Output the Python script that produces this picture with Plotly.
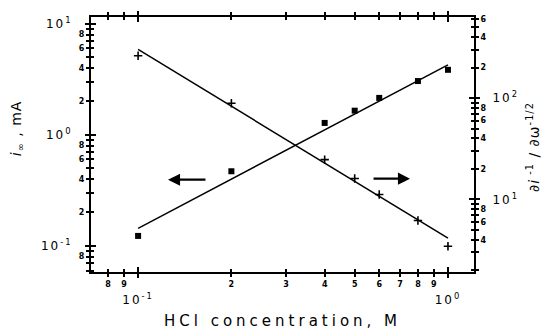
import plotly.graph_objects as go

# HCl concentration (M) and measured quantities
conc = [0.1, 0.2, 0.4, 0.5, 0.6, 0.8, 1.0]
i_inf = [0.123, 0.47, 1.28, 1.65, 2.15, 3.05, 3.85]          # mA, left axis
slope = [262, 89, 24.7, 16.1, 11.2, 6.2, 3.45]               # right axis

# least-squares lines (end points)
fit_conc = [0.1, 1.0]
fit_i = [0.144, 4.27]
fit_slope = [302, 4.15]

# tick values / labels
x_minor = [0.08, 0.09, 0.2, 0.3, 0.4, 0.5, 0.6, 0.7, 0.8, 0.9]
x_minor_txt = ["8", "9", "2", "3", "4", "5", "6", "7", "8", "9"]
x_major = [0.1, 1.0]
x_major_txt = ["10<sup>-1</sup>", "10<sup>0</sup>"]

yl_minor = [0.06, 0.07, 0.08, 0.09, 0.2, 0.3, 0.4, 0.5, 0.6, 0.7, 0.8, 0.9,
            2, 3, 4, 5, 6, 7, 8, 9]
yl_minor_txt = ["", "", "8", "", "2", "", "4", "", "6", "", "8", "",
                "2", "", "4", "", "6", "", "8", ""]
yl_major = [0.1, 1, 10]
yl_major_txt = ["10<sup>-1</sup>", "10<sup>0</sup>", "10<sup>1</sup>"]

yr_minor = [2, 3, 4, 5, 6, 7, 8, 9, 20, 30, 40, 50, 60, 70, 80, 90,
            200, 300, 400, 500, 600]
yr_minor_txt = ["", "", "4", "", "6", "", "8", "", "2", "", "4", "", "6", "", "8", "",
                "2", "", "4", "", "6"]
yr_major = [10, 100]
yr_major_txt = ["10<sup>1</sup>", "10<sup>2</sup>"]

BLACK = "black"


def spaced(s, px=2):
    return f'<span style="letter-spacing:{px}px">{s}</span>'


bold = lambda s: f"<b>{s}</b>" if s else ""

minor_font = dict(family="DejaVu Sans", size=8, color=BLACK)
major_font = dict(family="DejaVu Sans", size=12, color=BLACK)

fig = go.Figure()
fig.add_trace(go.Scatter(x=fit_conc, y=fit_i, mode="lines",
                         line=dict(color=BLACK, width=1.5), xaxis="x", yaxis="y"))
fig.add_trace(go.Scatter(x=conc, y=i_inf, mode="markers",
                         marker=dict(symbol="square", size=6, color=BLACK),
                         xaxis="x", yaxis="y"))
fig.add_trace(go.Scatter(x=fit_conc, y=fit_slope, mode="lines",
                         line=dict(color=BLACK, width=1.5), xaxis="x", yaxis="y2"))
fig.add_trace(go.Scatter(x=conc, y=slope, mode="markers",
                         marker=dict(symbol="cross-thin", size=6,
                                     line=dict(color=BLACK, width=1.6)),
                         xaxis="x", yaxis="y2"))
# empty traces so the overlaid decade-label axes get their own subplots
for xa, ya in [("x2", "y"), ("x", "y3"), ("x", "y4")]:
    fig.add_trace(go.Scatter(x=[], y=[], mode="markers", xaxis=xa, yaxis=ya,
                             hoverinfo="skip"))

xr = [-1.152, 0.084]
ylr = [-1.235, 1.061]
yrr = [0.284, 2.80]

common = dict(type="log", showgrid=False, zeroline=False, tickcolor=BLACK,
              tickwidth=1.5, autorange=False)

fig.update_layout(
    width=551, height=329,
    margin=dict(l=91, r=77, t=15, b=57),
    paper_bgcolor="white", plot_bgcolor="white",
    showlegend=False,
    xaxis=dict(**common, range=xr, tickmode="array", tickvals=x_minor,
               ticktext=[bold(t) for t in x_minor_txt], ticks="outside", ticklen=3,
               showline=True, linecolor=BLACK, linewidth=2, mirror="ticks",
               tickfont=minor_font,
               minor=dict(tickvals=x_major, ticks="inside", ticklen=5,
                          tickwidth=1.5, tickcolor=BLACK, showgrid=False)),
    xaxis2=dict(**common, range=xr, overlaying="x", anchor="y", side="bottom",
                tickmode="array",
                tickvals=x_major, ticktext=[spaced(t) for t in x_major_txt],
                ticks="outside", ticklen=5, mirror="ticks", showline=False,
                ticklabelstandoff=12, tickfont=major_font,
                minor=dict(tickvals=x_minor, ticks="inside", ticklen=3,
                           tickwidth=1.5, tickcolor=BLACK, showgrid=False)),
    yaxis=dict(**common, range=ylr, tickmode="array", tickvals=yl_minor,
               ticktext=[bold(t) for t in yl_minor_txt], ticks="outside", ticklen=3,
               showline=True, linecolor=BLACK, linewidth=2, tickfont=minor_font,
               minor=dict(tickvals=yl_major, ticks="inside", ticklen=5,
                          tickwidth=1.5, tickcolor=BLACK, showgrid=False)),
    yaxis3=dict(**common, range=ylr, overlaying="y", anchor="x", side="left",
                tickmode="array", tickvals=yl_major,
                ticktext=[spaced(t) for t in yl_major_txt], ticks="outside",
                ticklen=5, showline=False, ticklabelstandoff=10, tickfont=major_font,
                minor=dict(tickvals=yl_minor, ticks="inside", ticklen=3,
                           tickwidth=1.5, tickcolor=BLACK, showgrid=False)),
    yaxis2=dict(**common, range=yrr, overlaying="y", anchor="x", side="right",
                tickmode="array", tickvals=yr_minor,
                ticktext=[bold(t) for t in yr_minor_txt], ticks="outside", ticklen=3,
                showline=True, linecolor=BLACK, linewidth=2, tickfont=minor_font,
                minor=dict(tickvals=yr_major, ticks="inside", ticklen=5,
                           tickwidth=1.5, tickcolor=BLACK, showgrid=False)),
    yaxis4=dict(**common, range=yrr, overlaying="y", anchor="x", side="right",
                tickmode="array", tickvals=yr_major,
                ticktext=[spaced(t) for t in yr_major_txt], ticks="outside",
                ticklen=5, showline=False, ticklabelstandoff=10, tickfont=major_font,
                minor=dict(tickvals=yr_minor, ticks="inside", ticklen=3,
                           tickwidth=1.5, tickcolor=BLACK, showgrid=False)),
)

title_font = dict(family="DejaVu Sans", size=15, color=BLACK)
fig.add_annotation(xref="paper", yref="paper", x=0.5, y=-0.191,
                   text=spaced("HCl concentration, M", 4), showarrow=False,
                   font=title_font, xanchor="center", yanchor="middle")
fig.add_annotation(xref="paper", yref="paper", x=-0.193, y=0.564, textangle=-90,
                   text=spaced("<i>i</i><sub>∞</sub> , mA", 1), showarrow=False,
                   font=dict(family="DejaVu Sans", size=14, color=BLACK),
                   xanchor="center", yanchor="middle")
fig.add_annotation(xref="paper", yref="paper", x=1.154, y=0.49, textangle=-90,
                   text=spaced("∂<i>i</i><sup> -1</sup> / ∂ω<sup>-1/2</sup>", 1),
                   showarrow=False, font=dict(family="DejaVu Sans", size=14, color=BLACK),
                   xanchor="center", yanchor="middle")

# arrows pointing to the axis each curve belongs to
fig.add_annotation(xref="paper", yref="paper", x=0.201, y=0.362, ax=39, ay=0,
                   text="", showarrow=True, arrowhead=2, arrowsize=1.1,
                   arrowwidth=2.2, arrowcolor=BLACK)
fig.add_annotation(xref="paper", yref="paper", x=0.833, y=0.366, ax=-38, ay=0,
                   text="", showarrow=True, arrowhead=2, arrowsize=1.1,
                   arrowwidth=2.2, arrowcolor=BLACK)

fig.write_html("out.html")
